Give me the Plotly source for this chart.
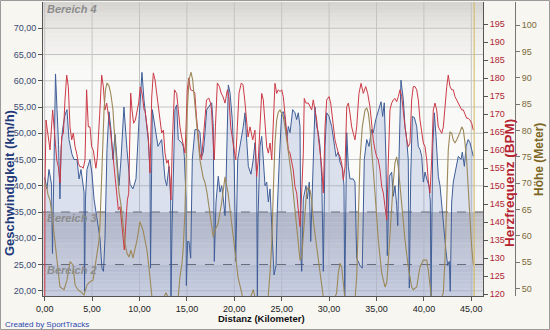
import plotly.graph_objects as go

# ---------------- data ----------------
speed_km = [0.00,0.24,0.45,0.72,0.82,0.98,1.14,1.30,1.46,1.61,1.72,1.88,2.14,2.35,2.56,2.88,3.09,3.41,3.62,3.83,
            4.04,4.15,4.20,4.30,4.46,4.78,4.99,5.20,5.52,5.83,6.04,6.20,6.36,6.57,6.78,6.99,7.20,7.42,7.63,7.84,
            8.05,8.36,8.68,9.00,9.31,9.63,9.95,10.26,10.47,10.79,10.95,11.11,11.16,11.35,11.64,11.95,12.34,12.69,12.87,13.11,
            13.29,13.32,13.43,13.57,13.74,13.92,14.09,14.45,14.62,14.73,14.91,14.94,15.08,15.22,15.40,15.57,15.85,16.20,16.38,16.56,
            16.73,16.91,17.09,17.44,17.62,17.78,17.89,18.07,18.31,18.49,18.67,18.84,19.02,19.12,19.37,19.55,19.79,20.00,20.15,20.36,
            20.60,20.95,21.13,21.31,21.48,21.76,22.00,22.18,22.36,22.43,22.50,22.71,22.89,23.06,23.24,23.42,23.59,23.77,23.95,24.11,
            24.19,24.40,24.54,24.75,25.00,25.17,25.35,25.53,25.70,25.88,26.16,26.40,26.58,26.75,26.93,27.04,27.11,27.28,27.56,27.70,
            27.91,28.06,28.20,28.33,28.51,28.69,28.86,29.04,29.22,29.39,29.57,29.75,29.99,30.27,30.44,30.73,30.97,31.15,31.43,31.57,
            31.65,31.71,31.86,32.03,32.20,32.55,32.73,32.91,33.26,33.50,33.71,33.97,34.21,34.49,34.66,34.92,35.19,35.48,35.65,35.82,
            36.00,36.14,36.35,36.60,36.77,36.95,37.13,37.24,37.37,37.58,37.83,38.01,38.19,38.35,38.46,38.61,38.78,38.99,39.24,39.41,
            39.59,39.77,39.94,40.12,40.30,40.54,40.68,40.75,40.93,41.10,41.28,41.52,41.70,41.94,42.15,42.33,42.51,42.68,42.78,42.93,
            43.10,43.39,43.63,43.92,44.05,44.27,44.45,44.67,44.86,45.04,45.21]
speed_kmh = [41.6,39.4,43.1,40.3,27.1,42.2,61.3,54.5,47.9,37.5,46.9,50.7,53.5,54.5,48.8,46.0,45.0,45.0,41.3,43.1,
             39.4,38.8,19.9,37.5,43.1,45.0,42.2,37.5,33.7,30.0,24.3,23.7,30.0,46.9,54.1,50.7,45.0,49.8,45.0,40.0,
             45.0,55.0,46.9,40.3,39.4,41.3,52.6,61.6,56.4,50.0,48.2,42.6,24.3,54.5,51.3,47.5,48.8,41.3,40.0,43.7,
             37.5,18.6,31.8,45.0,54.5,55.4,48.8,48.2,47.5,45.6,37.5,21.0,29.4,29.4,26.2,45.0,50.7,50.7,50.1,45.6,
             46.4,50.1,54.5,55.4,55.8,51.3,25.6,36.9,41.8,38.8,40.0,37.5,34.3,40.0,59.2,57.7,52.6,43.7,25.6,45.0,
             47.5,51.3,53.9,48.8,43.7,42.2,45.0,48.2,41.8,18.6,33.7,47.5,49.4,45.0,40.0,40.7,36.9,39.4,32.4,25.6,
             23.0,24.8,35.6,45.0,53.9,54.1,52.6,48.8,51.3,50.1,54.5,53.9,52.6,53.9,51.3,26.2,23.7,37.5,40.0,37.5,
             40.7,29.4,36.9,47.5,55.0,51.3,50.1,47.5,41.8,23.7,47.5,53.9,53.2,51.3,48.8,45.6,46.4,44.5,43.2,40.0,
             18.6,31.8,50.1,43.7,41.3,41.3,40.7,26.2,24.8,24.3,45.0,48.8,47.5,50.7,50.1,52.6,54.5,56.0,53.2,55.8,
             45.0,26.7,41.8,42.6,38.0,40.0,36.2,32.4,45.0,60.1,56.4,51.3,48.8,45.0,20.5,41.8,53.2,53.0,51.3,47.5,
             46.9,45.6,40.7,42.6,41.3,40.0,36.9,18.6,47.5,53.9,49.4,41.8,40.0,35.0,31.2,27.5,24.8,25.6,19.9,36.9,
             40.7,43.7,45.6,45.0,46.4,43.7,47.5,48.8,48.2,46.9,45.6]

hr_km = [0.00,0.03,0.14,0.38,0.56,0.84,1.09,1.27,1.44,1.62,1.79,1.97,2.14,2.32,2.49,2.67,2.85,3.02,3.20,3.37,
         3.55,3.72,3.90,4.07,4.25,4.42,4.60,4.78,4.95,5.13,5.40,5.55,5.80,6.01,6.19,6.36,6.54,6.71,6.89,7.07,
         7.24,7.42,7.60,7.77,7.95,8.12,8.30,8.40,8.58,8.72,8.86,9.07,9.21,9.38,9.56,9.73,9.91,10.08,10.27,10.49,
         10.58,10.93,11.11,11.29,11.46,11.64,11.81,11.99,12.16,12.34,12.52,12.69,12.87,13.04,13.22,13.32,13.46,13.69,13.92,14.09,
         14.27,14.45,14.62,14.80,14.91,15.04,15.20,15.38,15.66,15.83,16.01,16.19,16.36,16.54,16.72,16.89,17.07,17.31,17.49,17.60,
         17.78,17.89,18.01,18.21,18.43,18.61,18.82,19.02,19.27,19.44,19.62,19.80,19.97,20.15,20.32,20.50,20.74,20.92,21.10,21.27,
         21.45,21.66,21.94,22.18,22.36,22.53,22.71,22.89,23.06,23.24,23.42,23.59,23.77,23.95,24.11,24.29,24.47,24.64,24.82,25.00,
         25.17,25.35,25.53,25.70,25.88,26.05,26.22,26.40,26.58,26.75,26.93,27.11,27.28,27.38,27.56,27.81,27.99,28.16,28.33,28.51,
         28.69,28.86,29.04,29.22,29.39,29.57,29.75,29.99,30.17,30.44,30.62,30.80,30.97,31.15,31.33,31.50,31.68,31.86,32.03,32.20,
         32.38,32.55,32.73,32.91,33.15,33.37,33.61,33.86,34.07,34.31,34.49,34.66,34.84,35.02,35.19,35.37,35.55,35.72,35.90,36.08,
         36.25,36.42,36.60,36.77,36.95,37.13,37.30,37.48,37.66,37.83,38.01,38.19,38.35,38.53,38.71,38.88,39.06,39.24,39.41,39.59,
         39.77,39.94,40.12,40.30,40.46,40.64,40.82,40.99,41.17,41.35,41.52,41.70,41.88,42.05,42.22,42.41,42.57,42.75,42.93,43.10,
         43.28,43.46,43.63,43.81,43.99,44.16,44.33,44.51,44.67,44.86,45.04,45.21]
hr_bpm = [110,150,168.4,163.7,160.1,171.2,163.7,157.3,155.4,150.9,163.7,164.8,174.0,180.9,177.7,166.5,162.9,164.8,161.0,159.2,
          156.4,155.4,155.4,155.0,157.3,176.8,166.5,166.5,161.0,160.0,155.0,158.0,170.0,180.9,177.6,171.2,173.1,170.3,166.5,162.0,
          157.3,152.7,148.1,143.4,144.3,138.8,133.1,132.3,140.6,146.2,148.0,175.9,171.2,167.5,168.4,171.2,173.1,177.6,175.8,171.2,
          171.2,163.7,153.7,174.8,181.5,179.5,175.8,171.2,167.5,164.8,165.6,159.2,156.4,157.3,152.0,146.2,162.0,176.8,175.8,171.2,
          166.5,163.7,161.0,159.2,166.5,176.8,180.1,176.8,176.5,175.9,169.3,164.8,159.2,157.3,162.0,168.4,174.0,174.5,173.1,171.2,
          162.0,157.3,166.5,178.7,177.7,175.9,174.8,173.1,176.8,174.5,166.5,163.7,161.0,157.3,166.5,175.9,178.7,178.2,174.0,168.4,
          163.7,166.5,162.9,165.6,152.7,157.3,166.5,175.8,174.0,166.5,161.0,159.2,162.0,157.3,166.5,178.6,175.8,176.8,176.3,176.8,
          174.9,169.3,163.8,160.1,159.2,156.4,154.5,149.9,148.1,143.4,138.8,148.1,159.2,174.4,173.1,173.1,172.1,171.2,174.0,171.2,
          168.4,163.8,160.1,155.4,148.1,166.5,174.0,174.9,173.1,166.5,162.9,161.0,159.2,158.2,156.4,151.7,155.4,172.1,173.1,170.3,
          166.5,164.7,162.9,166.5,175.8,178.6,175.8,177.7,175.8,172.1,166.5,162.9,160.1,158.2,157.3,154.5,149.9,148.1,144.3,140.6,
          157.3,171.2,173.1,174.0,174.4,173.5,174.9,176.8,174.9,170.3,166.5,162.9,161.0,162.0,174.0,177.7,177.7,176.8,174.0,168.4,
          164.7,162.0,161.0,157.3,151.7,148.1,157.3,171.2,173.1,171.2,166.5,165.6,164.7,166.5,173.1,177.7,180.9,177.7,176.8,176.8,
          174.9,174.0,173.1,172.1,171.2,171.2,170.3,168.9,168.9,168.4,167.5,165.6]

alt_km = [0.00,0.21,0.35,0.56,0.77,1.09,1.40,1.61,2.04,2.35,2.67,2.99,3.20,3.51,3.93,4.15,4.46,4.78,5.10,5.31,
          5.52,5.73,5.83,6.04,6.15,6.26,6.41,6.57,6.78,6.99,7.20,7.31,7.52,7.63,7.84,8.05,8.26,8.47,8.68,8.89,
          9.10,9.31,9.74,10.05,10.37,10.79,11.10,11.31,11.63,12.30,12.80,13.20,13.60,14.06,14.27,14.48,14.62,14.80,14.91,15.04,
          15.22,15.43,15.61,15.78,16.03,16.20,16.38,16.70,16.91,17.12,17.44,17.78,17.96,18.28,18.67,19.02,19.34,19.55,19.76,20.07,
          20.39,20.78,20.92,21.34,21.84,22.00,22.18,22.50,23.24,23.55,23.77,23.95,24.11,24.29,24.47,24.64,24.82,25.00,25.17,25.35,
          25.53,25.88,26.05,26.40,26.75,26.93,27.11,27.28,27.46,27.64,27.81,27.99,28.16,28.33,28.69,29.04,29.39,30.10,30.80,30.97,
          31.15,31.33,31.50,31.68,32.20,32.73,32.91,33.08,33.26,33.50,33.79,33.97,34.14,34.31,34.49,34.66,34.84,35.19,35.55,35.90,
          36.08,36.25,36.42,36.60,36.77,36.95,37.13,37.30,37.48,37.66,38.01,38.35,38.71,38.88,39.24,39.41,39.59,39.94,40.30,40.46,
          40.64,40.82,41.38,42.05,42.22,42.41,42.57,42.75,42.93,43.10,43.28,43.46,43.63,43.81,43.99,44.16,44.33,44.51,44.67,44.86,
          45.04,45.21]
alt_m = [70.0,69.3,67.8,66.8,64.0,59.2,53.5,50.3,49.8,51.6,55.1,54.5,50.7,49.8,49.2,48.8,50.7,51.3,51.6,54.5,
         56.4,59.2,62.1,70.6,78.2,83.9,87.7,89.0,88.5,86.8,83.9,80.7,76.3,72.5,68.2,65.9,62.1,58.6,56.7,56.0,
         57.3,55.8,59.2,62.7,61.1,57.3,52.2,48.4,46.5,47.5,49.2,47.5,46.0,47.9,52.2,54.8,57.9,64.9,74.4,83.9,
         89.6,91.1,89.6,86.4,82.0,78.2,74.4,71.2,70.1,68.2,63.6,59.8,61.1,62.3,66.3,71.2,68.2,64.9,61.4,56.7,
         52.2,49.2,47.9,46.5,49.2,49.8,48.4,46.0,46.0,47.9,53.0,58.6,68.2,77.7,82.0,83.5,83.9,83.3,82.6,80.7,
         78.2,73.9,71.2,64.9,57.9,55.4,56.0,59.8,65.5,68.7,69.3,68.7,66.8,63.0,57.9,53.0,48.4,46.0,49.2,53.0,
         54.8,54.0,51.1,47.9,46.0,47.9,52.2,64.9,74.4,80.7,83.9,84.3,83.3,80.7,76.9,73.1,68.2,59.2,53.0,50.3,
         51.1,55.4,60.6,66.3,70.1,73.9,75.0,73.1,69.3,65.5,59.2,54.1,50.3,49.8,50.3,52.2,54.1,55.4,55.4,53.5,
         50.3,47.9,46.0,49.2,55.4,68.2,76.3,79.7,79.5,78.2,77.7,78.2,78.8,79.7,80.7,80.1,77.7,74.4,69.3,63.0,
         57.9,54.5]

end_km = 45.3
zone_limits = [25, 35]
zone_names = ["Bereich 2", "Bereich 3", "Bereich 4"]
x_ticks = [0, 5, 10, 15, 20, 25, 30, 35, 40, 45]
speed_ticks = [20, 25, 30, 35, 40, 45, 50, 55, 60, 65, 70]
hr_ticks = list(range(120, 200, 5))
alt_ticks = list(range(50, 105, 5))

def de(v):
    return f"{v:.2f}".replace(".", ",")

# ---------------- geometry ----------------
W, H = 550, 330
ML, MR, MT, MB = 43, 20, 2, 34
PW = W - ML - MR
PH = H - MT - MB
XDOM = 440 / PW

def px(x):
    return (x - ML) / PW

def py(y):
    return (H - MB - y) / PH

SP_RANGE = [19.0, 75.0]
HR_RANGE = [119.5, 201.2]
ALT_RANGE = [48.6, 104.4]

FONT = "Liberation Sans, Arial, sans-serif"

fig = go.Figure()

fig.add_trace(go.Scatter(x=speed_km, y=speed_kmh, mode="lines", fill="tozeroy",
                         fillcolor="rgba(140,158,208,0.28)",
                         line=dict(color="#3f5e98", width=1.0), yaxis="y", showlegend=False))
fig.add_trace(go.Scatter(x=alt_km, y=alt_m, mode="lines",
                         line=dict(color="#9c8858", width=1.1), yaxis="y3", showlegend=False))
fig.add_trace(go.Scatter(x=hr_km, y=hr_bpm, mode="lines",
                         line=dict(color="#cc3a46", width=1.0), yaxis="y2", showlegend=False))
fig.add_trace(go.Scatter(x=[end_km], y=[SP_RANGE[0] - 0.7], mode="markers", yaxis="y",
                         marker=dict(symbol="diamond", size=8, color="#f0d24c",
                                     line=dict(color="#8a7424", width=1)),
                         cliponaxis=False, showlegend=False))

shapes = []

def lerp(c0, c1, t):
    return "rgb(%d,%d,%d)" % tuple(round(a + (b - a) * t) for a, b in zip(c0, c1))

def gradient(stops, n_per):
    for (v0, c0), (v1, c1) in zip(stops[:-1], stops[1:]):
        for i in range(n_per):
            a = v0 + (v1 - v0) * i / n_per
            b = v0 + (v1 - v0) * (i + 1) / n_per
            shapes.append(dict(type="rect", xref="x domain", yref="y", x0=0, x1=1,
                               y0=a, y1=b, layer="below", line=dict(width=0),
                               fillcolor=lerp(c0, c1, (i + 0.5) / n_per)))

# zone backgrounds
gradient([(zone_limits[1], (250, 250, 250)), (62, (249, 249, 247)),
          (69, (236, 235, 232)), (SP_RANGE[1], (214, 212, 208))], 8)
gradient([(zone_limits[0], (220, 220, 225)), (zone_limits[1], (188, 188, 195))], 10)
gradient([(SP_RANGE[0], (224, 226, 232)), (zone_limits[0], (198, 201, 212))], 8)

# grid
for v in x_ticks:
    shapes.append(dict(type="line", xref="x", yref="y domain", x0=v, x1=v, y0=0, y1=1,
                       layer="below", line=dict(color="#c4c4c4", width=1)))
for v in speed_ticks:
    if v in zone_limits:
        continue
    shapes.append(dict(type="line", xref="x domain", yref="y", x0=0, x1=1, y0=v, y1=v,
                       layer="below", line=dict(color="#c4c4c4", width=1)))
for v in zone_limits:
    shapes.append(dict(type="line", xref="x domain", yref="y", x0=0, x1=1, y0=v, y1=v,
                       layer="below", line=dict(color="#5a5a5a", width=1, dash="dash")))

# end marker line
shapes.append(dict(type="line", xref="x", yref="y domain", x0=end_km, x1=end_km, y0=0, y1=1,
                   layer="above", line=dict(color="#d0b65a", width=1)))
# image border
shapes.append(dict(type="rect", xref="paper", yref="paper",
                   x0=px(0.5), x1=px(W - 0.5), y0=py(H - 0.5), y1=py(0.5),
                   line=dict(color="#9a9a9a", width=1), fillcolor="rgba(0,0,0,0)", layer="above"))

def ann(text, x, y, size, color, angle=0, xanchor="center"):
    return dict(text=text, x=px(x), y=py(y), xref="paper", yref="paper",
                xanchor=xanchor, yanchor="middle", textangle=angle, showarrow=False,
                font=dict(family=FONT, size=size, color=color))

annotations = [
    ann("<b>Geschwindigkeit (km/h)</b>", 9, 183, 13, "#22397a", -90),
    ann("<b>Herzfrequenz (BPM)</b>", 509, 183, 13.5, "#b52230", -90),
    ann("<b>Höhe (Meter)</b>", 539, 160, 12, "#7c6624", -90),
    ann("<b>Distanz (Kilometer)</b>", 261, 318, 9.5, "#111111"),
    ann("Created by SportTracks", 3, 324, 8, "#2a48b0", xanchor="left"),
]
label_pos = {"Bereich 2": 270, "Bereich 3": 218, "Bereich 4": 9}
for name in zone_names:
    annotations.append(ann("<b><i>%s</i></b>" % name, 45, label_pos[name], 11, "#8c8c8c",
                           xanchor="left"))

fig.update_layout(
    width=W, height=H,
    margin=dict(l=ML, r=MR, t=MT, b=MB, autoexpand=False),
    paper_bgcolor="#f7f6f1", plot_bgcolor="#f9f9f7",
    font=dict(family=FONT, size=9),
    shapes=shapes, annotations=annotations,
    xaxis=dict(domain=[0, XDOM], range=[(ML - 44.7) / 9.48, (ML + 440 - 44.7) / 9.48],
               tickvals=x_ticks, ticktext=[de(v) for v in x_ticks],
               showgrid=False, zeroline=False, showline=True, linecolor="#555555",
               ticks="outside", ticklen=4, tickcolor="#555555",
               tickfont=dict(family=FONT, size=9, color="#222222"), anchor="y"),
    yaxis=dict(range=SP_RANGE, tickvals=speed_ticks, ticktext=[de(v) for v in speed_ticks],
               showgrid=False, zeroline=False, showline=True, linecolor="#555555",
               ticks="outside", ticklen=4, tickcolor="#555555",
               tickfont=dict(family=FONT, size=9, color="#3a4870")),
    yaxis2=dict(range=HR_RANGE, tickvals=hr_ticks, overlaying="y", side="right", anchor="x",
                showgrid=False, zeroline=False, showline=True, linecolor="#555555",
                ticks="outside", ticklen=4, tickcolor="#555555",
                tickfont=dict(family=FONT, size=9, color="#b02535")),
    yaxis3=dict(range=ALT_RANGE, tickvals=alt_ticks, overlaying="y", side="right",
                anchor="free", position=px(515),
                showgrid=False, zeroline=False, showline=True, linecolor="#777777",
                ticks="outside", ticklen=4, tickcolor="#777777",
                tickfont=dict(family=FONT, size=9, color="#7a6a3a")),
    showlegend=False,
)

fig.write_html("out.html")
